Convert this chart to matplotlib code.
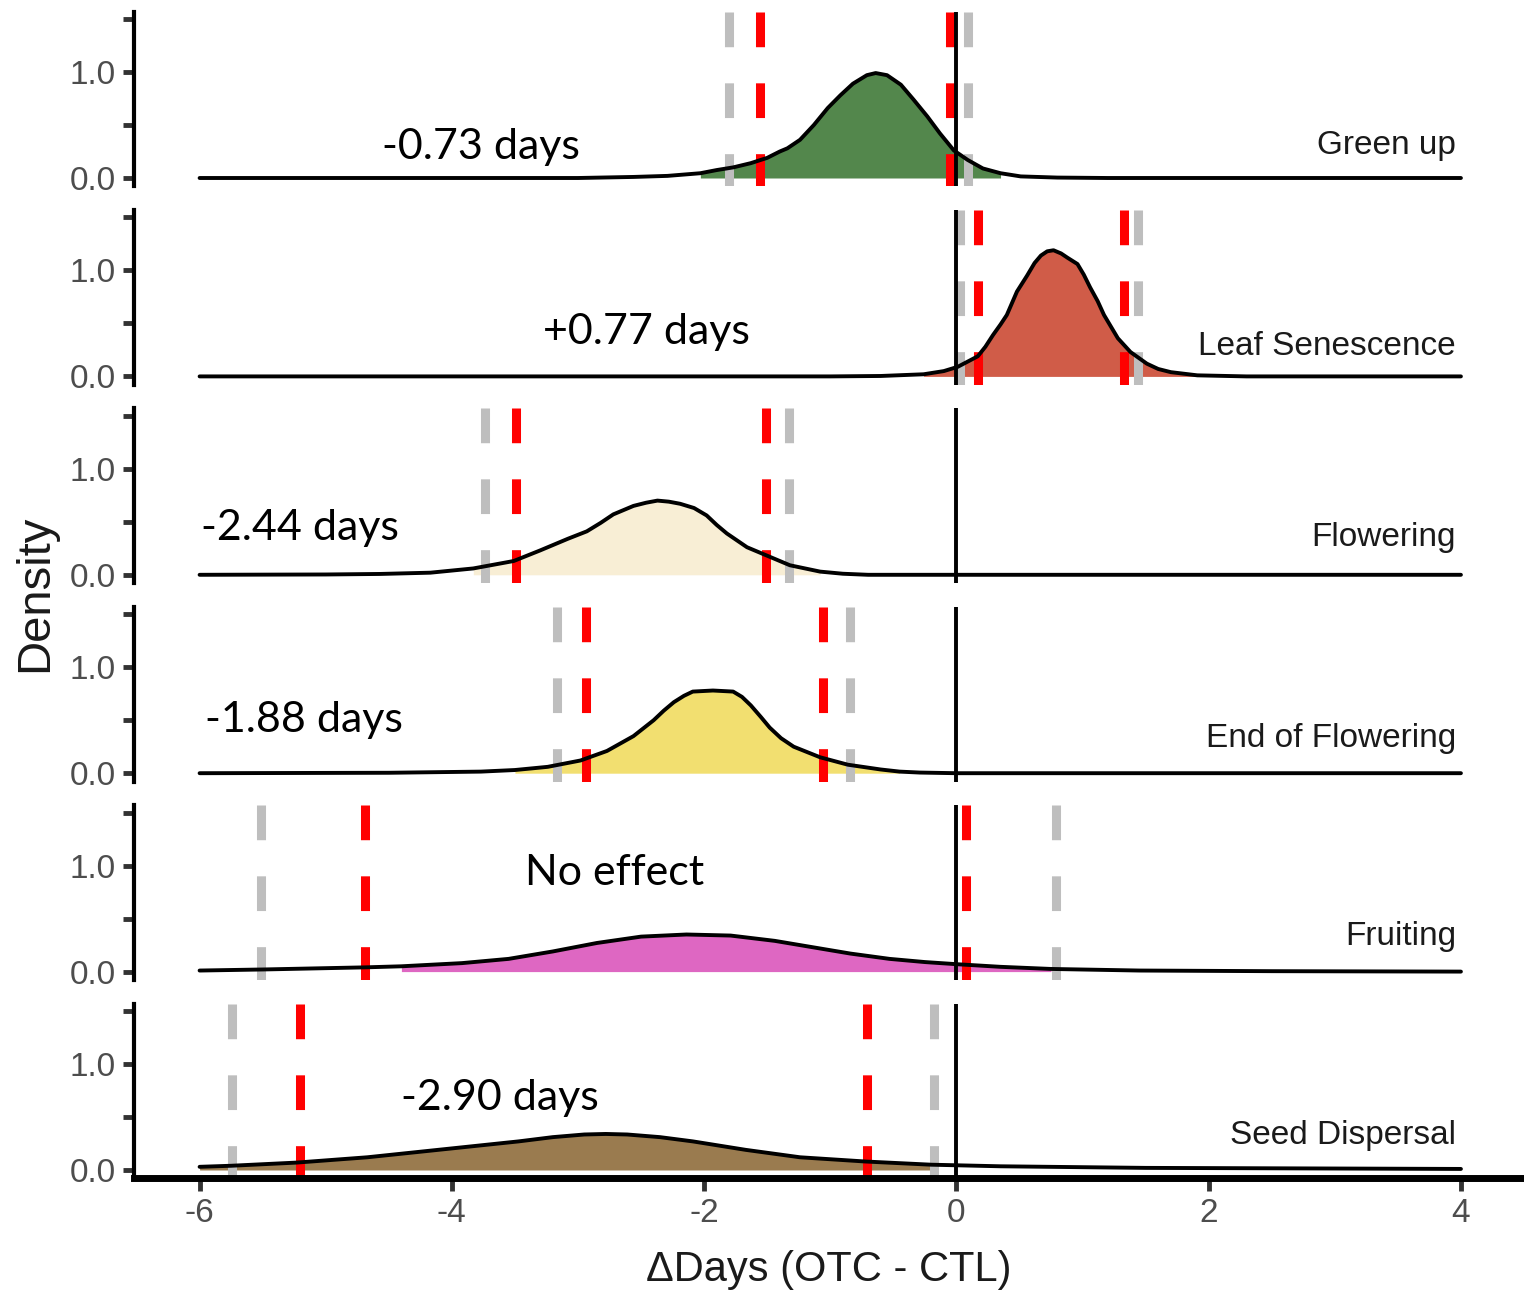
import numpy as np
import matplotlib
matplotlib.use("Agg")
import matplotlib.pyplot as plt

# ---- data ----
phases = ['Green up', 'Leaf Senescence', 'Flowering', 'End of Flowering', 'Fruiting', 'Seed Dispersal']
effects = ['-0.73 days', '+0.77 days', '-2.44 days', '-1.88 days', 'No effect', '-2.90 days']
fill_colors = ['#53874C', '#D05C48', '#F8EED5', '#F2DF70', '#DE67C2', '#9A7B4F']

green_x = [-6, -3.0, -2.56, -2.29, -2.03, -1.9, -1.77, -1.63, -1.5, -1.4, -1.34, -1.24, -1.13, -1.02, -0.92,
           -0.82, -0.71, -0.64, -0.55, -0.44, -0.34, -0.23, -0.13, -0.02, 0.09, 0.21, 0.35, 0.51, 0.8, 1.2, 4]
green_d = [0, 0, 0.01, 0.02, 0.045, 0.075, 0.10, 0.14, 0.19, 0.25, 0.28, 0.36, 0.50, 0.66, 0.78,
           0.89, 0.97, 0.99, 0.97, 0.88, 0.74, 0.58, 0.42, 0.26, 0.17, 0.09, 0.045, 0.015, 0.004, 0, 0]

leaf_x = [-6, -1.0, -0.6, -0.26, -0.1, 0.01, 0.17, 0.23, 0.29, 0.35, 0.40, 0.48, 0.56, 0.62, 0.67, 0.72, 0.77,
          0.83, 0.88, 0.96, 1.01, 1.06, 1.12, 1.17, 1.28, 1.38, 1.51, 1.60, 1.70, 1.91, 2.3, 4]
leaf_d = [0, 0, 0.004, 0.02, 0.05, 0.09, 0.19, 0.28, 0.39, 0.49, 0.58, 0.80, 0.95, 1.07, 1.14, 1.18, 1.19,
          1.16, 1.12, 1.06, 0.96, 0.84, 0.71, 0.58, 0.36, 0.23, 0.12, 0.07, 0.04, 0.01, 0, 0]

flower_x = [-6, -5.0, -4.57, -4.17, -3.83, -3.51, -3.30, -3.08, -2.93, -2.82, -2.72, -2.56, -2.46, -2.37,
            -2.28, -2.19, -2.08, -1.98, -1.90, -1.82, -1.66, -1.50, -1.32, -1.08, -0.9, -0.7, 4]
flower_d = [0, 0.003, 0.008, 0.02, 0.06, 0.13, 0.23, 0.34, 0.41, 0.49, 0.57, 0.65, 0.68, 0.70,
            0.69, 0.67, 0.63, 0.56, 0.47, 0.39, 0.26, 0.18, 0.09, 0.03, 0.01, 0, 0]

endflower_x = [-6, -4.5, -3.77, -3.5, -3.24, -2.98, -2.77, -2.56, -2.40, -2.32, -2.24, -2.16, -2.09, -1.93,
               -1.77, -1.70, -1.63, -1.55, -1.48, -1.39, -1.29, -1.08, -0.86, -0.60, -0.45, -0.29, 0, 4]
endflower_d = [0, 0.004, 0.015, 0.03, 0.06, 0.12, 0.21, 0.35, 0.50, 0.59, 0.67, 0.73, 0.77, 0.78,
               0.77, 0.72, 0.64, 0.53, 0.43, 0.33, 0.25, 0.15, 0.08, 0.035, 0.015, 0.006, 0, 0]

fruit_x = [-6, -5.50, -4.69, -4.4, -3.92, -3.55, -3.20, -2.85, -2.50, -2.14, -1.79, -1.44, -1.24, -0.84,
           -0.53, -0.25, 0.0, 0.35, 0.75, 1.45, 2.5, 4]
fruit_d = [0.01, 0.02, 0.04, 0.05, 0.08, 0.12, 0.19, 0.27, 0.33, 0.35, 0.34, 0.29, 0.25, 0.17,
           0.12, 0.09, 0.07, 0.045, 0.025, 0.01, 0.004, 0]

seed_x = [-6, -5.75, -5.23, -4.67, -4.03, -3.47, -3.20, -2.95, -2.78, -2.61, -2.35, -2.09, -1.88, -1.67,
          -1.24, -0.72, -0.20, 0.35, 1.5, 4]
seed_d = [0.03, 0.04, 0.07, 0.12, 0.20, 0.27, 0.31, 0.335, 0.34, 0.335, 0.31, 0.27, 0.23, 0.19,
          0.12, 0.08, 0.05, 0.035, 0.02, 0.01]

curves_x = [green_x, leaf_x, flower_x, endflower_x, fruit_x, seed_x]
curves_d = [green_d, leaf_d, flower_d, endflower_d, fruit_d, seed_d]
fill_ranges = [(-2.03, 0.35), (-0.26, 1.91), (-3.83, -1.08), (-3.5, -0.45), (-4.4, 0.75), (-6, -0.20)]

# credible intervals (red = inner, grey = outer)
red_lines = [(-1.56, -0.05), (0.17, 1.33), (-3.49, -1.51), (-2.94, -1.06), (-4.69, 0.08), (-5.20, -0.71)]
grey_lines = [(-1.80, 0.095), (0.03, 1.44), (-3.74, -1.33), (-3.17, -0.84), (-5.51, 0.79), (-5.74, -0.18)]

# ---- layout ----
effect_pos = [(-4.55, 0.29), (-3.28, 0.415), (-5.99, 0.44), (-5.96, 0.50), (-3.42, 0.93), (-4.40, 0.68)]
phase_pos_y = [0.31, 0.28, 0.35, 0.33, 0.33, 0.33]

W, H = 1524, 1297
plt.rcParams['font.family'] = ['Liberation Sans', 'DejaVu Sans']
plt.rcParams['lines.scale_dashes'] = False

fig = plt.figure(figsize=(W / 100, H / 100), dpi=100)
ylo, yhi = -0.08, 1.57
px_per_unit = 106.0

for i in range(6):
    y0 = 178 + 198.4 * i
    top = y0 - yhi * px_per_unit
    bot = y0 - ylo * px_per_unit
    ax = fig.add_axes([134 / W, 1 - bot / H, 1390 / W, (bot - top) / H])
    ax.set_xlim(-6.52, 4.5)
    ax.set_ylim(ylo, yhi)

    x = np.array(curves_x[i])
    d = np.array(curves_d[i])
    lo, hi = fill_ranges[i]
    m = (x >= lo) & (x <= hi)
    ax.fill_between(x[m], 0, d[m], color=fill_colors[i], lw=0, zorder=1)

    for xv in grey_lines[i]:
        ax.plot([xv, xv], [yhi, ylo], color='#BEBEBE', lw=6.5, dashes=(25, 26),
                solid_capstyle='butt', dash_capstyle='butt', zorder=2)
    for xv in red_lines[i]:
        ax.plot([xv, xv], [yhi, ylo], color='#FF0000', lw=6.5, dashes=(25, 26),
                solid_capstyle='butt', dash_capstyle='butt', zorder=2)

    ax.plot(x, d, color='black', lw=2.8, solid_joinstyle='round', solid_capstyle='round', zorder=3)
    ax.axvline(0, color='black', lw=2.8, zorder=4)

    ax.text(effect_pos[i][0], effect_pos[i][1], effects[i], family=['Lato', 'DejaVu Sans'],
            fontsize=31, ha='left', va='center', color='black', zorder=5)
    ax.text(3.96, phase_pos_y[i], phases[i], fontsize=24, ha='right', va='center',
            color='#1A1A1A', zorder=5)

    for s in ['top', 'right']:
        ax.spines[s].set_visible(False)
    ax.spines['left'].set_linewidth(3)
    ax.set_yticks([0, 0.5, 1.0, 1.5])
    ax.set_yticklabels(['0.0', '', '1.0', ''])
    ax.tick_params(axis='y', length=8, width=3.5, color='#333333', labelsize=24,
                   labelcolor='#4D4D4D', pad=5)
    ax.patch.set_visible(False)

    if i < 5:
        ax.spines['bottom'].set_visible(False)
        ax.set_xticks([])
    else:
        ax.spines['bottom'].set_linewidth(5)
        ax.set_xticks([-6, -4, -2, 0, 2, 4])
        ax.set_xticklabels(['-6', '-4', '-2', '0', '2', '4'])
        ax.tick_params(axis='x', length=9, width=3.5, color='#333333', labelsize=24,
                       labelcolor='#4D4D4D', pad=5)
        ax.set_xlabel('\u0394Days (OTC - CTL)', fontsize=30, color='#1A1A1A', labelpad=15)

fig.text(35 / W, 1 - 593 / H, 'Density', rotation=90, fontsize=34, color='#1A1A1A',
         ha='center', va='center')

fig.savefig('out.png', dpi=100)
